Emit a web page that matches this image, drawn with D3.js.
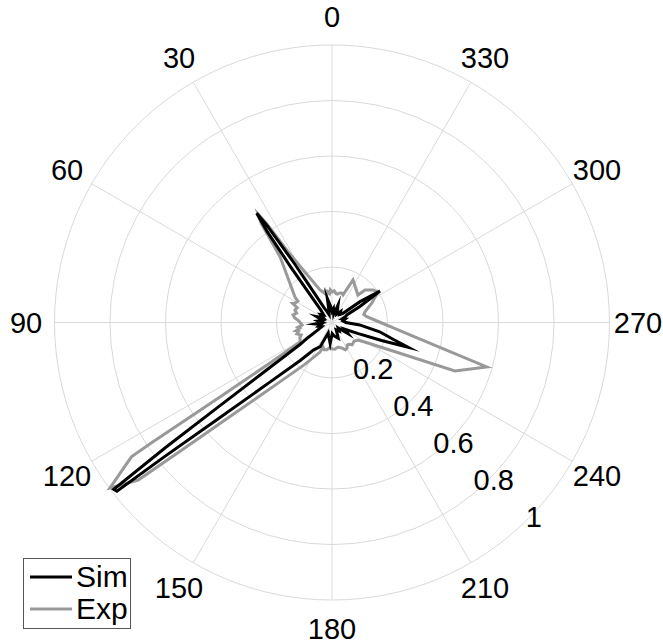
<!DOCTYPE html>
<html>
<head>
<meta charset="utf-8">
<script src="https://cdn.jsdelivr.net/npm/d3@7"></script>
<style>
  html, body { margin: 0; padding: 0; background: #fff; }
  svg { display: block; }
  text { font-family: "Liberation Sans", Arial, Helvetica, sans-serif; fill: #000; }
</style>
</head>
<body>
<svg id="chart" width="663" height="644"></svg>
<script>
// ---- data (angle in degrees, counter-clockwise from top; value normalised) ----
const simAngles = [0, 5, 11, 15, 20, 25, 28, 31, 32.5, 33.8, 34.6, 35.5, 36.6, 38, 42, 48, 55, 62, 69, 76, 83, 90, 95, 100, 106, 112, 118, 122, 124.5, 126, 126.6, 126.9, 127.4, 128.1, 128.7, 130.2, 133.7, 140, 146, 154, 160, 166, 175, 181, 190, 201.7, 210, 220, 228, 235, 242, 247, 250, 252, 254.5, 259, 265, 270, 278, 285, 290, 294, 297, 300, 303.3, 306.6, 310, 316, 322, 330, 341, 348, 354];
const simValues = [0.04, 0.06, 0.089, 0.04, 0.03, 0.045, 0.06, 0.12, 0.25, 0.42, 0.478, 0.40, 0.25, 0.14, 0.06, 0.04, 0.05, 0.035, 0.059, 0.035, 0.05, 0.035, 0.06, 0.04, 0.05, 0.04, 0.06, 0.10, 0.14, 0.30, 0.51, 0.75, 0.99, 0.985, 0.77, 0.54, 0.315, 0.18, 0.12, 0.097, 0.04, 0.05, 0.076, 0.04, 0.05, 0.061, 0.03, 0.04, 0.03, 0.07, 0.05, 0.10, 0.19, 0.288, 0.23, 0.175, 0.10, 0.05, 0.04, 0.05, 0.04, 0.055, 0.06, 0.116, 0.207, 0.126, 0.05, 0.04, 0.05, 0.035, 0.067, 0.03, 0.05];

const expAngles = [0, 3, 5, 8, 10, 12, 14, 16.4, 20.3, 31.7, 33.5, 34.3, 35.5, 38.4, 55.4, 58, 62, 64, 67, 71.3, 75, 79, 83, 87, 90, 94.8, 98, 100, 103, 105, 108, 112, 115, 118.7, 121.5, 123.2, 123.6, 123.7, 123.8, 126.7, 129.1, 130.4, 132.7, 138, 147, 158, 160, 164, 169.7, 175, 180, 186, 193.8, 198, 202, 206, 210.5, 214, 218, 222, 225.7, 230, 236, 240.3, 248.5, 254, 260, 265, 270, 279.5, 284, 288, 296, 303.5, 308.4, 314.6, 316.6, 333.7, 338.2, 342, 345, 349, 352, 356];
const expValues = [0.11, 0.118, 0.105, 0.112, 0.104, 0.116, 0.108, 0.115, 0.125, 0.294, 0.43, 0.472, 0.44, 0.30, 0.162, 0.145, 0.15, 0.158, 0.136, 0.141, 0.132, 0.143, 0.135, 0.12, 0.115, 0.108, 0.124, 0.118, 0.134, 0.125, 0.133, 0.12, 0.128, 0.131, 0.135, 0.27, 0.48, 0.78, 0.87, 0.998, 0.90, 0.70, 0.50, 0.30, 0.18, 0.115, 0.094, 0.102, 0.10, 0.09, 0.095, 0.097, 0.091, 0.095, 0.10, 0.11, 0.107, 0.098, 0.10, 0.108, 0.106, 0.104, 0.113, 0.149, 0.476, 0.58, 0.307, 0.222, 0.175, 0.127, 0.118, 0.125, 0.16, 0.199, 0.189, 0.167, 0.136, 0.171, 0.107, 0.112, 0.11, 0.104, 0.105, 0.115];

const radialTicks = [0.2, 0.4, 0.6, 0.8, 1];
const radialTickLabels = ["0.2", "0.4", "0.6", "0.8", "1"];
const angleTicks = [0, 30, 60, 90, 120, 150, 180, 210, 240, 270, 300, 330];
const angleTickLabels = ["0", "30", "60", "90", "120", "150", "180", "210", "240", "270", "300", "330"];
const seriesNames = ["Sim", "Exp"];
const seriesColors = ["#000000", "#999999"];

// ---- layout ----
const W = 663, H = 644;
const cx = 332, cy = 322.5, R = 277.5;
const fs = 29;

const svg = d3.select("#chart");
svg.append("rect").attr("width", W).attr("height", H).attr("fill", "#fff");

const g = svg.append("g").attr("transform", `translate(${cx},${cy})`);

const rScale = d3.scaleLinear().domain([0, 1]).range([0, R]);
// counter-clockwise, 0 at top
const aScale = d3.scaleLinear().domain([0, 360]).range([0, -2 * Math.PI]);
const px = (deg, r) => r * Math.sin(aScale(deg));
const py = (deg, r) => -r * Math.cos(aScale(deg));

// grid circles
g.selectAll("circle.grid").data(radialTicks).enter().append("circle")
  .attr("class", "grid")
  .attr("r", d => rScale(d))
  .attr("fill", "none").attr("stroke", "#d9d9d9").attr("stroke-width", 1);

// spokes
g.selectAll("line.spoke").data(angleTicks).enter().append("line")
  .attr("x1", 0).attr("y1", 0)
  .attr("x2", d => px(d, R)).attr("y2", d => py(d, R))
  .attr("stroke", "#d9d9d9").attr("stroke-width", 1);

// angle labels
const labR = 306;
g.selectAll("text.alab").data(angleTicks).enter().append("text")
  .attr("x", d => px(d, labR))
  .attr("y", d => py(d, labR) + 0.358 * fs)
  .attr("text-anchor", "middle")
  .attr("font-size", fs)
  .text((d, i) => angleTickLabels[i]);

// radial tick labels
const rlabAngle = 227.3;
g.selectAll("text.rlab").data(radialTicks).enter().append("text")
  .attr("x", d => px(rlabAngle, rScale(d) * 0.985) + 1)
  .attr("y", d => py(rlabAngle, rScale(d) * 0.985) + 9 + 0.358 * fs)
  .attr("text-anchor", "middle")
  .attr("font-size", fs)
  .text((d, i) => radialTickLabels[i]);

// series
const line = d3.lineRadial()
  .angle(d => aScale(d.a))
  .radius(d => rScale(d.v))
  .curve(d3.curveLinearClosed);

const expData = expAngles.map((a, i) => ({ a, v: expValues[i] }));
const simData = simAngles.map((a, i) => ({ a, v: simValues[i] }));

g.append("path").datum(expData)
  .attr("d", line)
  .attr("fill", "none").attr("stroke", seriesColors[1]).attr("stroke-width", 3)
  .attr("stroke-linejoin", "miter").attr("stroke-miterlimit", 10);

g.append("path").datum(simData)
  .attr("d", line)
  .attr("fill", "none").attr("stroke", seriesColors[0]).attr("stroke-width", 3)
  .attr("stroke-linejoin", "miter").attr("stroke-miterlimit", 10);

// legend
const leg = svg.append("g");
leg.append("rect")
  .attr("x", 23.5).attr("y", 558.5).attr("width", 107).attr("height", 70)
  .attr("fill", "#fff").attr("stroke", "#555").attr("stroke-width", 1);
const legY = [577, 609];
seriesNames.forEach((name, i) => {
  leg.append("line")
    .attr("x1", 30).attr("x2", 72).attr("y1", legY[i]).attr("y2", legY[i])
    .attr("stroke", seriesColors[i]).attr("stroke-width", 3);
  leg.append("text")
    .attr("x", 76).attr("y", legY[i] + 0.358 * fs)
    .attr("font-size", 30)
    .text(name);
});
</script>
</body>
</html>
